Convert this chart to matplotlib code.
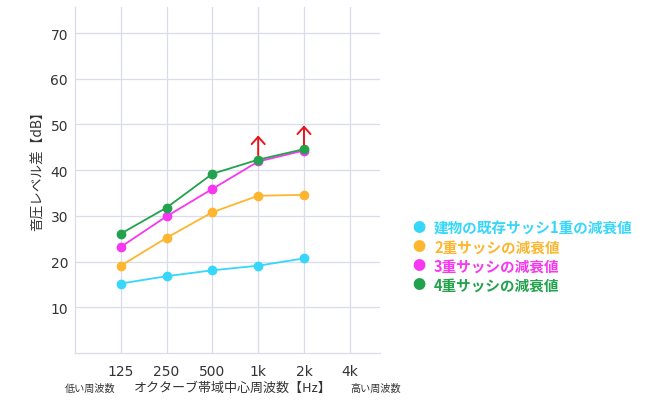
import matplotlib
matplotlib.use("Agg")
import matplotlib.pyplot as plt
import numpy as np

plt.rcParams["font.family"] = ["Noto Sans CJK JP", "DejaVu Sans"]

# ---- data ----
freq_labels = ["125", "250", "500", "1k", "2k", "4k"]
freq_pos = np.arange(1, len(freq_labels) + 1)

series_names = [
    "建物の既存サッシ1重の減衰値",
    "2重サッシの減衰値",
    "3重サッシの減衰値",
    "4重サッシの減衰値",
]
single = [15.2, 16.8, 18.1, 19.1, 20.7]
double = [19.1, 25.2, 30.8, 34.4, 34.6]
triple = [23.2, 29.9, 35.9, 41.9, 44.3]
quad = [26.1, 31.8, 39.2, 42.3, 44.6]
series_values = [single, double, triple, quad]
series_colors = ["#36d7fb", "#fdb62f", "#f737f2", "#22a24c"]

# "more than" arrows at 1k and 2k (start, end in dB)
arrow_freq = [4, 5]
arrow_start = [43.3, 45.6]
arrow_end = [47.6, 49.8]

# ---- figure ----
fig = plt.figure(figsize=(6.46, 4.14), dpi=100)
ax = fig.add_axes([75 / 646, 60 / 414, 305 / 646, 346 / 414])

grid_c = "#d9dcec"
txt_c = "#333333"
ax.set_xlim(0, 6.66)
ax.set_ylim(0, 75.7)
ax.set_xticks(freq_pos)
ax.set_xticklabels(freq_labels, family="DejaVu Sans")
ax.set_yticks([10, 20, 30, 40, 50, 60, 70])
ax.set_yticklabels(["10", "20", "30", "40", "50", "60", "70"], family="DejaVu Sans")
ax.grid(True, color=grid_c, linewidth=0.9)
ax.set_axisbelow(True)
for side in ["top", "right"]:
    ax.spines[side].set_visible(False)
for side in ["left", "bottom"]:
    ax.spines[side].set_color(grid_c)
    ax.spines[side].set_linewidth(0.9)
ax.tick_params(length=0, labelsize=10, colors=txt_c)
ax.tick_params(axis="x", pad=8)
ax.tick_params(axis="y", pad=5)

for vals, c in zip(series_values, series_colors):
    x = freq_pos[:len(vals)]
    ax.plot(x, vals, color=c, linewidth=1.3, marker="o", markersize=6,
            markeredgecolor=c, zorder=3)

for fx, y0, y1 in zip(arrow_freq, arrow_start, arrow_end):
    ax.annotate("", xy=(fx, y1), xytext=(fx, y0),
                arrowprops=dict(arrowstyle="->,head_length=0.26,head_width=0.235",
                                color="#e8141c", lw=1.4, mutation_scale=20,
                                shrinkA=0, shrinkB=0))

ax.set_ylabel("音圧レベル差【dB】", fontsize=9.8, color=txt_c)
ax.yaxis.set_label_coords(-0.098, 0.538)

fig.text(65 / 646, 1 - 389 / 414, "低い周波数", fontsize=7.3, color=txt_c,
         va="center", ha="left")
fig.text(134 / 646, 1 - 388 / 414, "オクターブ帯域中心周波数【Hz】", fontsize=9.4,
         color=txt_c, va="center", ha="left")
fig.text(350 / 646, 1 - 389 / 414, "高い周波数", fontsize=7.3, color=txt_c,
         va="center", ha="left")

# legend drawn by hand to match the layout
leg_y = [229, 248, 267, 286]
for name, c, yy in zip(series_names, series_colors, leg_y):
    fig.text(412 / 646, 1 - yy / 414, "●", fontsize=9.5, color=c,
             va="center", ha="left")
    fig.text(434 / 646, 1 - yy / 414, name, fontsize=10.5, color=c,
             fontweight="bold", va="center", ha="left")

fig.savefig("out.png", dpi=100)
